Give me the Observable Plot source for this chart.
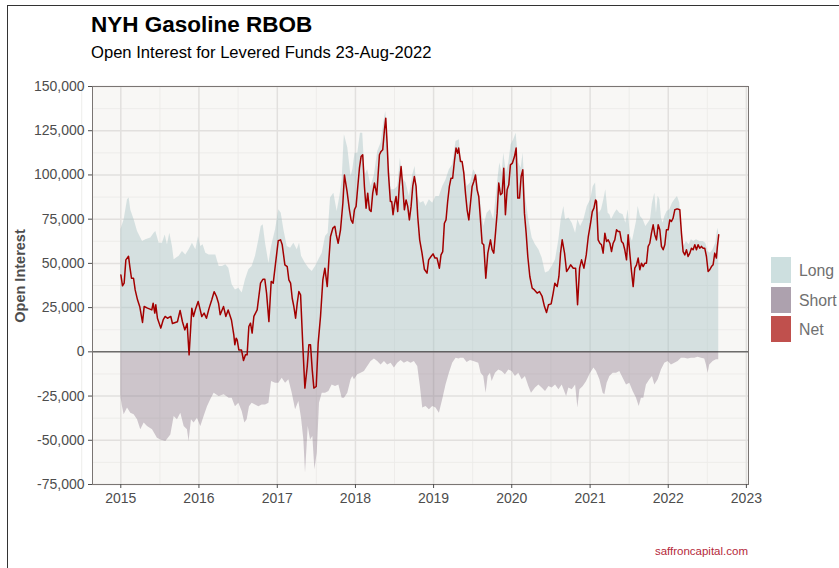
<!DOCTYPE html>
<html><head><meta charset="utf-8">
<script src="https://cdn.jsdelivr.net/npm/d3@7"></script>
<script src="https://cdn.jsdelivr.net/npm/@observablehq/plot@0.6"></script>
<style>
body{margin:0;background:#fff;}
#wrap{position:relative;width:839px;height:568px;overflow:hidden;font-family:"Liberation Sans",Arial,Helvetica,sans-serif;background:#fff;}
#frame{position:absolute;left:7px;top:5px;width:840px;height:620px;border-left:1px solid #333;border-top:1px solid #333;}
#title{position:absolute;left:91px;top:14px;font-size:22.5px;line-height:22.5px;font-weight:bold;color:#000;white-space:nowrap;}
#subtitle{position:absolute;left:91px;top:45px;font-size:16.6px;line-height:16.6px;color:#000;white-space:nowrap;}
#ylab{position:absolute;left:20px;top:276px;transform:translate(-50%,-50%) rotate(-90deg);font-size:14.5px;font-weight:bold;color:#4d4d4d;white-space:nowrap;}
#chart{position:absolute;left:0;top:72px;}
.key{position:absolute;left:771px;width:20px;height:26px;}
.klab{position:absolute;left:799px;font-size:15.8px;line-height:15.8px;color:#707070;white-space:nowrap;}
#caption{position:absolute;right:91px;top:546px;font-size:11.5px;line-height:11.5px;color:#b5283a;white-space:nowrap;}
</style></head>
<body>
<div id="wrap">
  <div id="frame"></div>
  <div id="title">NYH Gasoline RBOB</div>
  <div id="subtitle">Open Interest for Levered Funds 23-Aug-2022</div>
  <div id="ylab">Open Interest</div>
  <div id="chart"></div>
  <div id="legend"></div>
  <div id="caption">saffroncapital.com</div>
</div>
<script>
// ---- data (time as decimal year, values in thousands of contracts) ----
const netT = [2015.001,2015.022,2015.043,2015.065,2015.099,2015.116,2015.137,2015.163,2015.184,2015.214,2015.244,2015.278,2015.299,2015.342,2015.397,2015.414,2015.435,2015.448,2015.469,2015.512,2015.542,2015.568,2015.597,2015.640,2015.661,2015.725,2015.759,2015.789,2015.819,2015.849,2015.874,2015.909,2015.930,2015.960,2015.990,2016.011,2016.036,2016.066,2016.096,2016.130,2016.164,2016.194,2016.224,2016.250,2016.271,2016.314,2016.343,2016.373,2016.415,2016.445,2016.458,2016.475,2016.488,2016.509,2016.543,2016.569,2016.594,2016.615,2016.637,2016.658,2016.679,2016.701,2016.743,2016.786,2016.816,2016.841,2016.863,2016.893,2016.922,2016.948,2016.978,2017.012,2017.042,2017.063,2017.097,2017.127,2017.148,2017.170,2017.191,2017.212,2017.234,2017.255,2017.276,2017.298,2017.327,2017.353,2017.383,2017.404,2017.425,2017.447,2017.468,2017.498,2017.523,2017.553,2017.583,2017.609,2017.639,2017.660,2017.681,2017.711,2017.737,2017.754,2017.779,2017.809,2017.839,2017.859,2017.893,2017.923,2017.944,2017.966,2017.987,2018.008,2018.030,2018.051,2018.072,2018.093,2018.115,2018.136,2018.157,2018.179,2018.200,2018.221,2018.243,2018.273,2018.307,2018.328,2018.349,2018.371,2018.388,2018.405,2018.422,2018.447,2018.464,2018.481,2018.498,2018.520,2018.541,2018.562,2018.584,2018.605,2018.626,2018.648,2018.669,2018.690,2018.712,2018.733,2018.754,2018.776,2018.797,2018.822,2018.852,2018.882,2018.916,2018.937,2018.967,2018.993,2019.018,2019.044,2019.074,2019.095,2019.117,2019.138,2019.159,2019.180,2019.202,2019.223,2019.244,2019.266,2019.287,2019.308,2019.321,2019.344,2019.365,2019.387,2019.408,2019.429,2019.451,2019.472,2019.493,2019.515,2019.536,2019.557,2019.578,2019.600,2019.621,2019.642,2019.668,2019.694,2019.728,2019.749,2019.770,2019.792,2019.813,2019.834,2019.856,2019.877,2019.898,2019.919,2019.941,2019.962,2019.983,2020.009,2020.035,2020.056,2020.077,2020.099,2020.120,2020.141,2020.162,2020.184,2020.205,2020.231,2020.261,2020.290,2020.324,2020.354,2020.388,2020.418,2020.444,2020.469,2020.503,2020.529,2020.550,2020.580,2020.602,2020.623,2020.644,2020.674,2020.700,2020.729,2020.751,2020.785,2020.815,2020.840,2020.866,2020.891,2020.921,2020.951,2020.977,2021.006,2021.028,2021.049,2021.070,2021.082,2021.103,2021.125,2021.146,2021.167,2021.189,2021.210,2021.231,2021.253,2021.274,2021.295,2021.316,2021.338,2021.359,2021.380,2021.402,2021.423,2021.444,2021.466,2021.487,2021.508,2021.530,2021.551,2021.572,2021.594,2021.615,2021.636,2021.657,2021.679,2021.700,2021.721,2021.743,2021.764,2021.785,2021.807,2021.828,2021.849,2021.871,2021.892,2021.913,2021.935,2021.956,2021.977,2021.999,2022.020,2022.041,2022.062,2022.084,2022.105,2022.126,2022.148,2022.169,2022.190,2022.212,2022.233,2022.254,2022.276,2022.297,2022.318,2022.340,2022.361,2022.382,2022.403,2022.425,2022.446,2022.467,2022.489,2022.510,2022.531,2022.553,2022.574,2022.595,2022.616,2022.629,2022.646];
const netV = [43.5,37.3,38.8,52,54,48,41.6,41.6,35,29.4,25.3,16.6,25.6,24.7,23.7,27.5,21.9,26.6,19,13.4,18,20,19,20,16,17,23.4,17,12.4,16,-1.7,24.7,20,24.7,28.5,24.7,20,21.9,19,24.7,29.4,34,31.3,27.5,21,25.6,20,23.7,18,9.6,4,7.7,6.8,1.1,1.1,-4.9,-1.7,-1.7,14.3,16.2,10.6,20,23.7,38.8,41,41,33.2,17.1,39.8,38.8,50.1,62.8,63.3,60.5,49.2,48.2,40.7,38.8,30.3,25.6,19,27.5,34.1,32.2,3,-20.5,-8.3,4,4,-10.2,-20.5,-19.6,4.9,20,40.7,47.3,36.9,52,65.2,69.9,70.9,66.2,61.4,69,84,100,90.6,80.3,74.6,72.7,80.3,82.2,93.5,103.8,110.4,111.4,93.5,81.2,89.7,80.3,79.3,89.7,95.4,88.8,111.4,113.3,114.2,125.5,132.1,118,101,85,85,77.5,83.1,87.8,79.3,94.4,104.8,93.5,80.3,85.9,82.2,74.6,82.2,93.5,99.1,93.5,76.5,63.3,55.8,46.7,44.5,52,53.9,55.4,53,53,47.3,54.8,56.7,72.7,74.6,85,93.5,98.2,98.2,107.6,115.2,112.3,115.2,107.6,107.6,101,89.7,80.3,74.6,84,93.5,96.3,100,91.6,87.8,74.6,61.4,60.5,41.6,55.8,63.3,57.7,55.8,67.1,78.4,95.4,88.8,89.7,103.8,77.5,91.6,94.4,105.7,106.7,110.4,115.2,86.9,86.9,99.1,102.9,78.4,67.1,53.9,42.6,36,35,33.2,34.1,31.3,25.6,22.2,26.6,27.1,33.2,38.8,36.9,42.6,55.8,63.3,55.8,45.4,47.3,49.2,47.3,47.3,26.6,47.3,52,47.3,54.8,65.2,72.7,79.3,81.2,85.9,85,63.3,61.4,60.5,55.8,67.1,62.4,63.3,61.4,56.7,61.4,63.3,69,68,68,62.4,61.4,57.7,52,66.2,55.8,45.4,36.9,47.3,49.2,53,46.4,50.1,48.2,50.1,50.1,59.6,61.4,67.1,71.8,66.2,63.3,71.8,69,59.6,57.7,60.5,69,69,74.6,73.7,75.6,80.3,80.7,80.7,80.3,67.1,56.7,54.8,57.7,53.9,55.8,58.6,57.7,60.5,57.7,60.5,58.6,59.6,58.6,58.6,53.9,45.4,46.4,48.2,49.2,55.8,53,59.6,66.2];

const longT = [2015.001,2015.043,2015.086,2015.107,2015.128,2015.171,2015.214,2015.278,2015.320,2015.384,2015.427,2015.448,2015.491,2015.533,2015.568,2015.597,2015.627,2015.661,2015.683,2015.747,2015.789,2015.832,2015.874,2015.917,2015.960,2015.994,2016.024,2016.053,2016.088,2016.130,2016.173,2016.215,2016.258,2016.301,2016.343,2016.381,2016.424,2016.466,2016.509,2016.552,2016.594,2016.637,2016.679,2016.722,2016.765,2016.795,2016.820,2016.850,2016.893,2016.927,2016.978,2017.020,2017.050,2017.084,2017.127,2017.170,2017.212,2017.255,2017.285,2017.310,2017.361,2017.404,2017.447,2017.489,2017.532,2017.575,2017.617,2017.651,2017.681,2017.724,2017.766,2017.801,2017.830,2017.852,2017.859,2017.902,2017.944,2017.966,2017.995,2018.030,2018.064,2018.093,2018.123,2018.157,2018.200,2018.243,2018.285,2018.328,2018.362,2018.388,2018.413,2018.456,2018.498,2018.541,2018.575,2018.605,2018.648,2018.690,2018.733,2018.763,2018.797,2018.831,2018.874,2018.903,2018.946,2018.989,2019.031,2019.074,2019.117,2019.159,2019.202,2019.244,2019.287,2019.330,2019.344,2019.387,2019.429,2019.472,2019.515,2019.549,2019.600,2019.642,2019.685,2019.728,2019.770,2019.813,2019.847,2019.877,2019.898,2019.932,2019.962,2019.992,2020.026,2020.056,2020.090,2020.120,2020.145,2020.175,2020.218,2020.261,2020.303,2020.346,2020.388,2020.431,2020.474,2020.516,2020.559,2020.602,2020.631,2020.665,2020.687,2020.729,2020.772,2020.815,2020.844,2020.879,2020.921,2020.964,2021.006,2021.041,2021.070,2021.082,2021.116,2021.146,2021.176,2021.201,2021.231,2021.253,2021.274,2021.316,2021.346,2021.380,2021.423,2021.457,2021.487,2021.517,2021.542,2021.572,2021.594,2021.615,2021.645,2021.679,2021.713,2021.743,2021.773,2021.798,2021.828,2021.849,2021.871,2021.892,2021.913,2021.935,2021.956,2021.986,2022.020,2022.054,2022.084,2022.118,2022.148,2022.169,2022.199,2022.233,2022.267,2022.297,2022.327,2022.361,2022.403,2022.446,2022.480,2022.510,2022.540,2022.574,2022.608,2022.634,2022.646];
const longV = [69,74.6,86,87,80,74.6,68,62.4,63.3,64.3,67,68,61.4,61.4,66,60.5,67,59.6,52,54,56.7,54.8,57.7,61.4,57.7,65,59.6,60.5,55.8,54.8,54.8,54.8,48.2,48.2,49.2,47.3,37.9,35,36,33.2,40.7,46.4,48.2,54,63.3,70.9,71.8,61.4,50,59.6,69,80.3,78.4,69,59.6,58.6,61.4,57.7,61.4,54,50,47.3,45.4,48.2,52,55.8,65.2,67,86.9,89.7,79.3,87.8,97.2,118,122.7,115.2,99.1,102.9,112.3,112.3,123.6,123.6,100,102.9,93.5,100,113.3,118,129.3,135.9,120.8,91.6,91.6,93.5,109.5,98.2,95.4,87.8,100,104.8,87.8,84,85,82.2,86,84,87.8,87.8,93.5,97.2,102.9,105.7,118.9,119.9,111.4,104.8,93.5,95.4,102.9,100,85.9,70.9,78.4,80.3,74.6,93.5,106.7,101,112.3,101,106.7,117,119.9,123.6,106.7,103.8,112.3,87.8,74.6,64.3,60.5,57.7,53,44.5,45.4,48.2,52,63.3,74.6,82.2,74.6,75.6,72.7,67.1,74.6,70.9,74.6,82.2,85.9,93.5,95.4,86,78.4,80.3,86,91.6,78.4,77.5,74.6,78.4,80.3,78.4,77.5,72.7,80.3,65.2,62.4,69,73.7,82.2,76.5,74.6,70.9,72.7,74.6,84,89.7,78.4,88,86,75.6,72.7,76.5,79.3,80.3,84,86,87.8,84,67.1,59.6,62.4,60.5,63.3,62.4,63.3,62.4,62.4,61.4,56.7,55.8,57.7,61.4,69.9,67.1];

const shortT = [2015.001,2015.022,2015.043,2015.086,2015.128,2015.171,2015.214,2015.256,2015.299,2015.342,2015.406,2015.469,2015.512,2015.576,2015.640,2015.683,2015.725,2015.768,2015.811,2015.853,2015.874,2015.904,2015.938,2015.981,2016.024,2016.066,2016.109,2016.152,2016.194,2016.258,2016.322,2016.386,2016.424,2016.466,2016.509,2016.552,2016.586,2016.615,2016.645,2016.679,2016.722,2016.765,2016.807,2016.850,2016.893,2016.927,2016.978,2017.020,2017.063,2017.106,2017.148,2017.191,2017.234,2017.276,2017.310,2017.340,2017.361,2017.396,2017.425,2017.455,2017.481,2017.511,2017.540,2017.575,2017.617,2017.660,2017.702,2017.745,2017.788,2017.830,2017.859,2017.902,2017.923,2017.944,2017.966,2017.987,2018.030,2018.072,2018.115,2018.157,2018.200,2018.243,2018.285,2018.328,2018.371,2018.413,2018.456,2018.498,2018.541,2018.584,2018.626,2018.669,2018.712,2018.754,2018.797,2018.831,2018.861,2018.903,2018.946,2018.989,2019.031,2019.074,2019.117,2019.159,2019.202,2019.244,2019.287,2019.330,2019.344,2019.387,2019.429,2019.472,2019.515,2019.578,2019.608,2019.642,2019.672,2019.698,2019.728,2019.749,2019.792,2019.834,2019.877,2019.919,2019.962,2020.005,2020.047,2020.090,2020.133,2020.175,2020.218,2020.252,2020.303,2020.346,2020.388,2020.431,2020.474,2020.516,2020.559,2020.602,2020.644,2020.700,2020.729,2020.772,2020.815,2020.844,2020.870,2020.913,2020.955,2021.006,2021.049,2021.082,2021.125,2021.167,2021.189,2021.218,2021.253,2021.295,2021.338,2021.380,2021.423,2021.466,2021.508,2021.551,2021.594,2021.628,2021.657,2021.687,2021.721,2021.764,2021.798,2021.828,2021.871,2021.913,2021.956,2021.999,2022.041,2022.084,2022.126,2022.169,2022.212,2022.254,2022.297,2022.340,2022.382,2022.425,2022.467,2022.489,2022.510,2022.531,2022.574,2022.616,2022.646];
const shortV = [-25.3,-31,-35.6,-31.8,-34.7,-35.6,-38.4,-44,-40.3,-42.2,-44,-48.8,-49.8,-50.7,-47,-36.6,-38.4,-34.7,-42.2,-44,-50.7,-38.4,-40.3,-37.5,-42.2,-36.6,-31,-27,-23.4,-25.3,-24.3,-26.2,-26.2,-31,-29,-33.7,-40.3,-38.4,-31,-29,-30,-31,-30,-30,-29,-16.8,-17.7,-17.7,-14.9,-17.7,-15.8,-23.4,-32.8,-28.1,-37.5,-49.8,-68.6,-42.2,-49.8,-47.9,-66.7,-57.3,-29,-23.4,-23.4,-22.4,-18.7,-19.6,-18.7,-26.2,-26.2,-23.4,-19.6,-15.8,-13.9,-15.8,-13,-12.1,-11.1,-8.3,-5.5,-4.1,-5.5,-7.4,-5.5,-7.4,-6.4,-9.2,-6.4,-4.9,-6.4,-5.5,-6.4,-5.5,-8.3,-19.6,-31.8,-30.9,-32.8,-30.9,-31.8,-34.7,-27,-18.7,-12.1,-6.4,-3.6,-4.1,-3.6,-3.6,-6,-4.9,-5.5,-6.4,-12.1,-13.9,-23.4,-13.9,-12.1,-16.8,-12.1,-10.2,-11.1,-13,-10.2,-11.1,-13.9,-12.1,-15.8,-13.9,-19.6,-23.4,-20.5,-18.7,-20.5,-22.4,-19.6,-20.5,-18.7,-21.5,-18.7,-25.3,-20.5,-21.5,-18.7,-31.8,-21.5,-19.6,-16.8,-12.1,-9.2,-11.1,-15.8,-23.4,-24.3,-17.7,-13.9,-12.1,-12.1,-11.1,-14.9,-18.7,-17.7,-22.4,-26.2,-30.9,-26.2,-26.2,-18.7,-15.8,-13.9,-18.7,-15.8,-10.2,-6.4,-5.5,-7.4,-6.4,-5.5,-3.6,-3.6,-4.1,-3.6,-3.6,-3,-3.6,-4.1,-7.4,-12.1,-7.4,-5.5,-4.5,-4.5];

const yTicks = [-75000,-50000,-25000,0,25000,50000,75000,100000,125000,150000];
const yearTicks = [2015,2016,2017,2018,2019,2020,2021,2022,2023];
const seriesNames = ["Long","Short","Net"];
const seriesColors = ["#cddfdf","#ada1ae","#c0504d"];

// ---- helpers ----
function dy(t){const y=Math.floor(t);const s=Date.UTC(y,0,1),e=Date.UTC(y+1,0,1);return new Date(s+(t-y)*(e-s));}
const toRows=(T,V)=>T.map((t,i)=>({date:dy(t),value:V[i]*1000}));
const net=toRows(netT,netV), long=toRows(longT,longV), short=toRows(shortT,shortV);
const majorX=yearTicks.map(y=>dy(y));
const minorX=yearTicks.slice(0,-1).map(y=>dy(y+0.5)).concat([dy(2014.5)]);
const minorY=yTicks.slice(0,-1).map(v=>v+12500);
const fmt=d=>d3.format(",")(d).replace("\u2212","-");

const chart=Plot.plot({
  width:839,height:440,
  marginLeft:92,marginRight:91,marginTop:14,marginBottom:28,
  x:{type:"utc",domain:[dy(2014.638),dy(2023.027)]},
  y:{domain:[-75000,150000]},
  style:{fontFamily:"'Liberation Sans', Arial, sans-serif",fontSize:"14px",color:"#4d4d4d",background:"transparent",overflow:"visible"},
  marks:[
    Plot.frame({fill:"#f8f7f5",stroke:null}),
    Plot.gridY(minorY,{stroke:"#ecebe9",strokeOpacity:1,strokeWidth:0.9}),
    Plot.gridX(minorX,{stroke:"#ecebe9",strokeOpacity:1,strokeWidth:0.9}),
    Plot.gridY(yTicks,{stroke:"#e2e0de",strokeOpacity:1,strokeWidth:1.5}),
    Plot.gridX(majorX,{stroke:"#e2e0de",strokeOpacity:1,strokeWidth:1.5}),
    Plot.areaY(long,{x:"date",y:"value",fill:"#a5c2c3",fillOpacity:0.42}),
    Plot.areaY(short,{x:"date",y:"value",fill:"#8c7a8c",fillOpacity:0.4}),
    Plot.ruleY([0],{stroke:"#333",strokeWidth:1}),
    Plot.line(net,{x:"date",y:"value",stroke:"#a30000",strokeWidth:1.5}),
    Plot.frame({stroke:"#7a7573",strokeWidth:1}),
    Plot.axisY(yTicks,{tickFormat:fmt,tickSize:4,tickPadding:4,label:null,stroke:"#4d4d4d"}),
    Plot.axisX(majorX,{tickFormat:d3.utcFormat("%Y"),tickSize:4,tickPadding:5,label:null,stroke:"#4d4d4d"})
  ]
});
document.getElementById("chart").appendChild(chart);

// legend
const leg=document.getElementById("legend");
const keyTops=[257,287,316];
seriesNames.forEach((n,i)=>{
  const k=document.createElement("div");k.className="key";k.style.top=keyTops[i]+"px";k.style.background=seriesColors[i];leg.appendChild(k);
  const l=document.createElement("div");l.className="klab";l.style.top=(keyTops[i]+5.5)+"px";l.textContent=n;leg.appendChild(l);
});
</script>
</body></html>
